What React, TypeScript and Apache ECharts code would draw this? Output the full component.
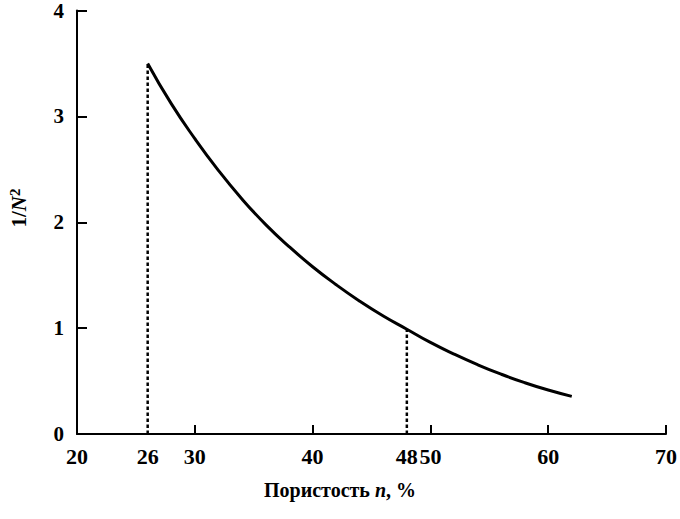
import React, { useEffect, useRef } from "react";
import * as echarts from "echarts";

const porosity = [26, 28, 30, 32, 34, 36, 38, 40, 42, 44, 46, 48, 50, 52, 54, 56, 58, 60, 62];
const invN2 = [3.5, 3.12, 2.79, 2.49, 2.22, 1.98, 1.77, 1.58, 1.41, 1.255, 1.115, 0.99, 0.865, 0.755, 0.655, 0.565, 0.485, 0.415, 0.355];
const xLabelValues = [20, 26, 30, 40, 48, 50, 60, 70];
const xTickValues = [30, 40, 50, 60, 70];
const markX = [26, 48];
const markY = [3.5, 0.99];

const SERIF = "'Liberation Serif', 'DejaVu Serif', serif";

export default function App() {
  const ref = useRef<HTMLDivElement>(null);
  useEffect(() => {
    if (!ref.current) return;
    const chart = echarts.init(ref.current, null, { renderer: "svg" });
    const curve = porosity.map((x, i) => [x, invN2[i]]);
    const dashSeries = markX.map((x, i) => ({
      type: "line",
      data: [
        [x, 0],
        [x, markY[i]],
      ],
      symbol: "none",
      lineStyle: { color: "#000", width: 2.5, type: [3.5, 2.5] },
      z: 1,
    }));
    chart.setOption({
      animation: false,
      backgroundColor: "#fff",
      grid: { left: 77, right: 12, top: 10, bottom: 85 },
      xAxis: {
        type: "value",
        min: 20,
        max: 70,
        interval: 10,
        axisLine: { lineStyle: { color: "#000", width: 2 } },
        axisTick: {
          inside: true,
          length: 9,
          lineStyle: { color: "#000", width: 2 },
          customValues: xTickValues,
        },
        axisLabel: {
          customValues: xLabelValues,
          color: "#000",
          fontFamily: SERIF,
          fontWeight: "bold",
          fontSize: 22,
          margin: 11,
        },
        splitLine: { show: false },
      },
      yAxis: {
        type: "value",
        min: 0,
        max: 4,
        interval: 1,
        axisLine: { lineStyle: { color: "#000", width: 2 } },
        axisTick: { inside: true, length: 10, lineStyle: { color: "#000", width: 2 } },
        axisLabel: {
          color: "#000",
          fontFamily: SERIF,
          fontWeight: "bold",
          fontSize: 21,
          margin: 13,
        },
        splitLine: { show: false },
      },
      graphic: [
        {
          type: "text",
          x: 340,
          y: 490,
          style: {
            text: "{b|Пористость }{i|n}{b|, %}",
            align: "center",
            verticalAlign: "middle",
            rich: {
              b: { fontFamily: SERIF, fontWeight: "bold", fontSize: 20, fill: "#000" },
              i: { fontFamily: SERIF, fontWeight: "bold", fontStyle: "italic", fontSize: 20, fill: "#000" },
            },
          },
        },
        {
          type: "text",
          x: 19,
          y: 208,
          rotation: Math.PI / 2,
          style: {
            text: "{b|1/}{i|N}{s|2}",
            align: "center",
            verticalAlign: "middle",
            rich: {
              b: { fontFamily: SERIF, fontWeight: "bold", fontSize: 21, fill: "#000" },
              i: { fontFamily: SERIF, fontWeight: "bold", fontStyle: "italic", fontSize: 21, fill: "#000" },
              s: { fontFamily: SERIF, fontWeight: "bold", fontSize: 15, fill: "#000", padding: [0, 0, 9, 0] },
            },
          },
        },
      ],
      series: [
        {
          type: "line",
          data: curve,
          smooth: true,
          symbol: "none",
          lineStyle: { color: "#000", width: 3 },
          z: 3,
        },
        ...dashSeries,
      ],
    });
    return () => chart.dispose();
  }, []);
  return (
    <div
      ref={ref}
      style={{ position: "absolute", left: 0, top: 0, width: 680, height: 519 }}
    />
  );
}
